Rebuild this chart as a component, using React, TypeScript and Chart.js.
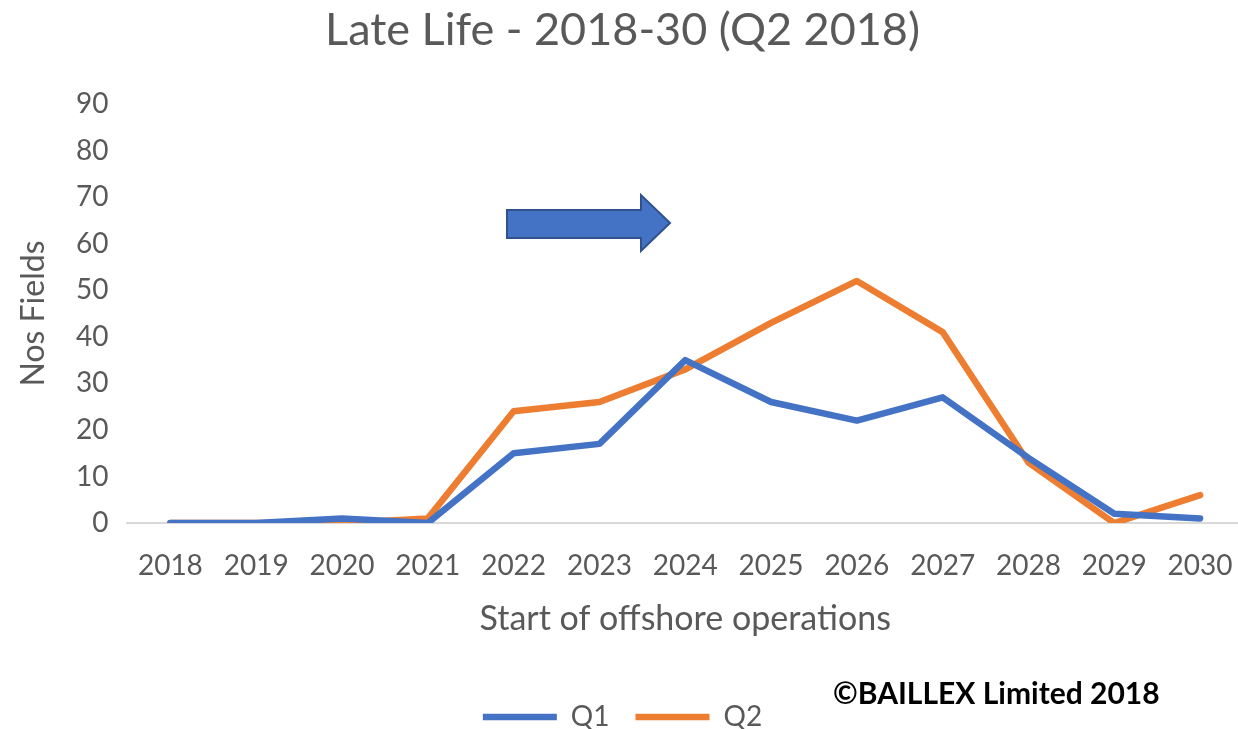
import React, { useEffect, useRef } from "react";
import { Chart, registerables } from "chart.js";

Chart.register(...registerables);

const years = ["2018", "2019", "2020", "2021", "2022", "2023", "2024", "2025", "2026", "2027", "2028", "2029", "2030"];
const q1Values = [0, 0, 1, 0, 15, 17, 35, 26, 22, 27, 14, 2, 1];
const q2Values = [0, 0, 0, 1, 24, 26, 33, 43, 52, 41, 13, 0, 6];
const yTicks = [0, 10, 20, 30, 40, 50, 60, 70, 80, 90];

const FONT = "Lato, 'Open Sans', sans-serif";
const GREY = "#595959";

const arrowPlugin = {
  id: "arrowShape",
  afterDatasetsDraw(chart: any) {
    const ctx = chart.ctx;
    ctx.save();
    ctx.beginPath();
    ctx.moveTo(507, 210);
    ctx.lineTo(641, 210);
    ctx.lineTo(641, 195);
    ctx.lineTo(670, 223);
    ctx.lineTo(641, 251);
    ctx.lineTo(641, 238);
    ctx.lineTo(507, 238);
    ctx.closePath();
    ctx.fillStyle = "#4472C4";
    ctx.fill();
    ctx.lineWidth = 2;
    ctx.strokeStyle = "#2F528F";
    ctx.lineJoin = "miter";
    ctx.stroke();
    ctx.restore();
  },
};

export default function App() {
  const ref = useRef<HTMLCanvasElement>(null);
  useEffect(() => {
    if (!ref.current) return;
    const chart = new Chart(ref.current, {
      type: "line",
      data: {
        labels: years,
        datasets: [
          {
            label: "Q1",
            data: q1Values,
            borderColor: "#4472C4",
            backgroundColor: "#4472C4",
            borderWidth: 6.5,
            pointRadius: 0,
            borderCapStyle: "round",
            borderJoinStyle: "round",
            tension: 0,
          },
          {
            label: "Q2",
            data: q2Values,
            borderColor: "#ED7D31",
            backgroundColor: "#ED7D31",
            borderWidth: 6.5,
            pointRadius: 0,
            borderCapStyle: "round",
            borderJoinStyle: "round",
            tension: 0,
          },
        ],
      },
      options: {
        animation: false,
        responsive: false,
        maintainAspectRatio: false,
        layout: { padding: { left: 2, right: 3, top: 0, bottom: 0 } },
        plugins: {
          title: {
            display: true,
            text: "Late Life - 2018-30 (Q2 2018)",
            color: GREY,
            font: { family: FONT, size: 45, weight: "normal" },
            padding: { top: 3, bottom: 47 },
          },
          legend: {
            display: true,
            position: "bottom",
            labels: {
              usePointStyle: true,
              pointStyle: "line",
              pointStyleWidth: 74,
              boxHeight: 8,
              color: GREY,
              font: { family: FONT, size: 28 },
              padding: 26,
            },
          },
          tooltip: { enabled: false },
        },
        scales: {
          x: {
            offset: true,
            grid: { display: false, drawTicks: false },
            border: { display: true, color: "#D9D9D9", width: 2 },
            ticks: {
              color: GREY,
              font: { family: FONT, size: 28, lineHeight: 3.07 },
              padding: 0,
              maxRotation: 0,
            },
            title: {
              display: true,
              text: "Start of offshore operations",
              color: GREY,
              font: { family: FONT, size: 34 },
              padding: { top: -10.4, bottom: 37.6 },
            },
          },
          y: {
            min: 0,
            max: 90,
            afterBuildTicks: (axis: any) => {
              axis.ticks = yTicks.map((v) => ({ value: v }));
            },
            grid: { display: false, drawTicks: false },
            border: { display: false },
            ticks: { color: GREY, font: { family: FONT, size: 28 }, padding: 19 },
            title: {
              display: true,
              text: "Nos Fields",
              color: GREY,
              font: { family: FONT, size: 32 },
              padding: { top: 12, bottom: 4.6 },
            },
          },
        },
      },
      plugins: [arrowPlugin],
    });
    return () => chart.destroy();
  }, []);

  return (
    <div style={{ position: "fixed", left: 0, top: 0, width: 1238, height: 729, overflow: "hidden", background: "#fff" }}>
      <canvas ref={ref} width={1246} height={741} style={{ width: 1246, height: 741, display: "block" }} />
      <div
        style={{
          position: "absolute",
          left: 833,
          top: 674,
          fontFamily: FONT,
          fontWeight: "bold",
          fontSize: 30,
          color: "#000",
          whiteSpace: "nowrap",
          lineHeight: "36px",
        }}
      >
        ©BAILLEX Limited 2018
      </div>
    </div>
  );
}
